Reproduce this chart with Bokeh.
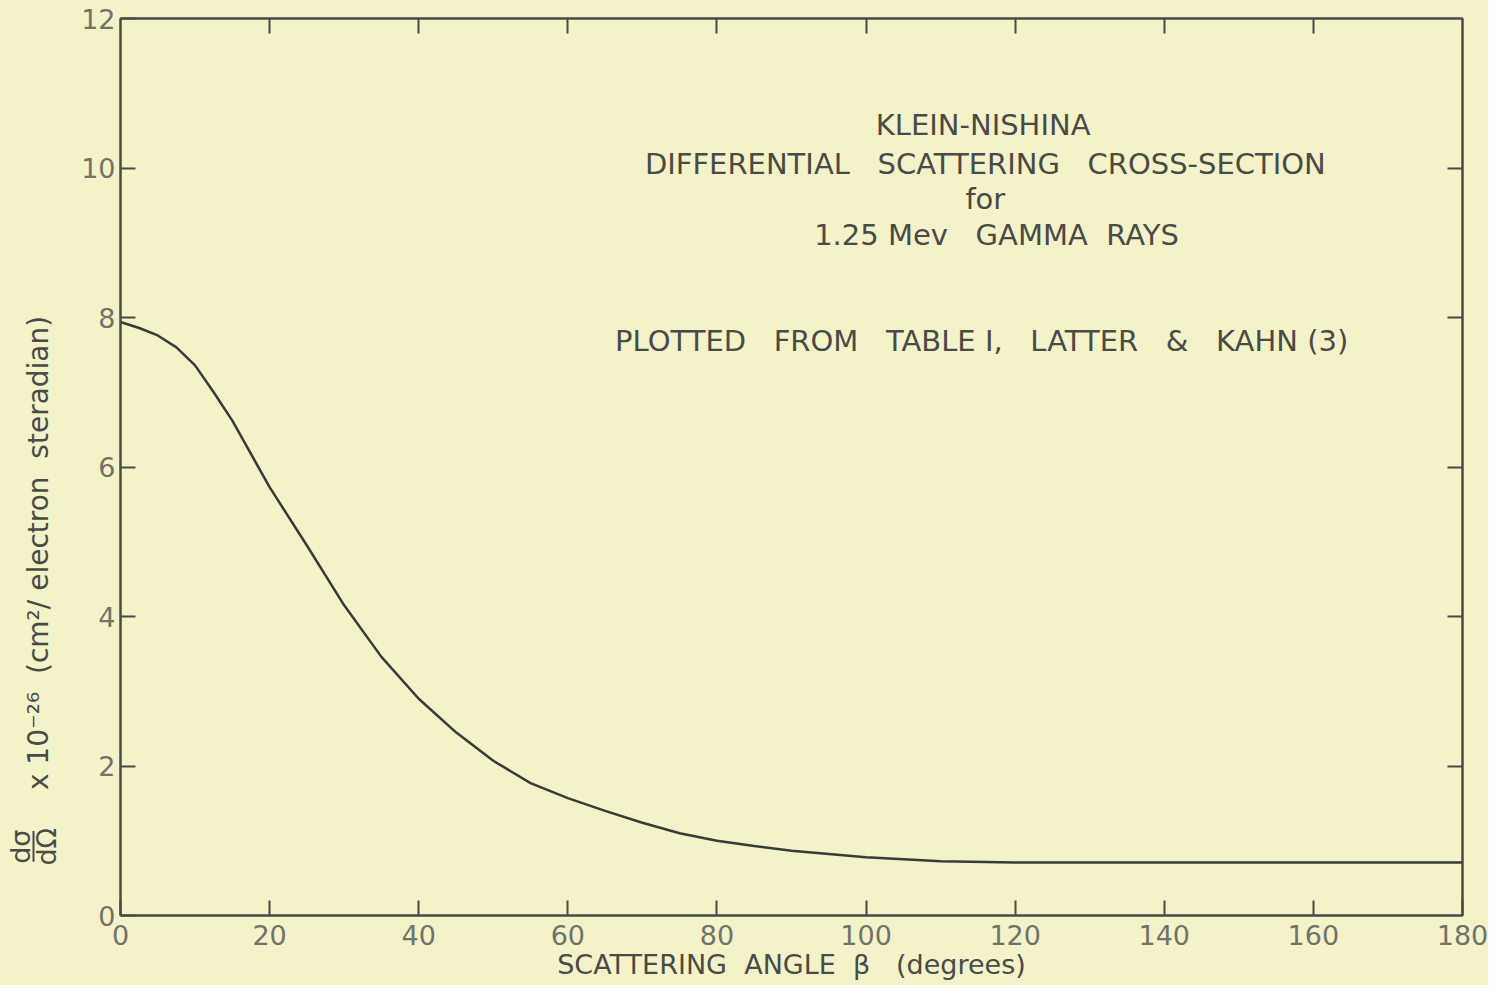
from bokeh.plotting import figure
from bokeh.layouts import row
from bokeh.models import (Range1d, LinearAxis, FixedTicker, Label, CustomJSTickFormatter,
                          InlineStyleSheet)
from bokeh.embed import file_html
from bokeh.resources import INLINE

# ---- data ----
angle_deg = [0, 2.5, 5, 7.5, 10, 12.5, 15, 20, 25, 30, 35, 40, 45, 50, 55, 60, 65,
             70, 75, 80, 85, 90, 100, 110, 120, 130, 140, 150, 160, 170, 180]
cross_section = [7.94, 7.86, 7.76, 7.60, 7.36, 7.00, 6.62, 5.73, 4.95, 4.15, 3.46,
                 2.90, 2.45, 2.07, 1.77, 1.57, 1.40, 1.24, 1.10, 1.00, 0.93, 0.865,
                 0.78, 0.725, 0.71, 0.71, 0.71, 0.71, 0.71, 0.71, 0.71]

x_ticks = [0, 20, 40, 60, 80, 100, 120, 140, 160, 180]
y_ticks = [0, 2, 4, 6, 8, 10, 12]

NB = "\u00a0"
SP = NB + NB + " "
title_lines = ["KLEIN-NISHINA",
               "DIFFERENTIAL" + SP + "SCATTERING" + SP + "CROSS-SECTION",
               "for",
               "1.25 Mev" + SP + "GAMMA" + NB + " RAYS"]
source_note = ("PLOTTED" + SP + "FROM" + SP + "TABLE I," + SP + "LATTER" + SP +
               "&" + SP + "KAHN (3)")
x_label = "SCATTERING" + NB + " ANGLE" + NB + " \u03b2" + NB + NB + " (degrees)"
y_numerator = "d\u03c3"
y_denominator = "d\u03a9"
y_label_rest = "x 10\u207b\u00b2\u2076" + NB + " (cm\u00b2/ electron" + NB + " steradian)"

PAPER = "#f3f2c9"
INK = "#4a4a46"
FONT = "DejaVu Sans"
TOP, BOTTOM = 18, 70
HEIGHT = 985

# ---- narrow left panel holding the y-axis title ----
pl = figure(width=78, height=HEIGHT, output_backend="svg", toolbar_location=None,
            x_range=Range1d(0, 78), y_range=Range1d(0, 12),
            min_border_left=0, min_border_right=0, min_border_top=TOP,
            min_border_bottom=BOTTOM, x_axis_location=None, y_axis_location=None)
pl.background_fill_color = PAPER
pl.border_fill_color = PAPER
pl.outline_line_color = None
pl.grid.visible = False
for tx, txt in [(20, y_numerator), (46, y_denominator)]:
    pl.add_layout(Label(x=tx, y=0.92, text=txt, angle=1.5708, text_align="center",
                        text_baseline="middle", text_font=FONT,
                        text_font_size="27px", text_color=INK))
pl.segment(x0=[33], y0=[0.72], x1=[33], y1=[1.13], line_color=INK, line_width=2)
pl.add_layout(Label(x=38, y=4.85, text=y_label_rest, angle=1.5708,
                    text_align="center", text_baseline="middle", text_font=FONT,
                    text_font_size="28px", text_color=INK))

# ---- main plot ----
p = figure(width=1410, height=HEIGHT, output_backend="svg", toolbar_location=None,
           x_range=Range1d(0, 180), y_range=pl.y_range,
           min_border_left=40, min_border_right=26, min_border_top=TOP,
           min_border_bottom=BOTTOM, x_axis_location=None, y_axis_location=None)
p.background_fill_color = PAPER
p.border_fill_color = PAPER
p.outline_line_color = INK
p.outline_line_width = 2
p.grid.visible = False

def style_axis(ax, ticks, show_labels, standoff):
    ax.ticker = FixedTicker(ticks=ticks)
    ax.major_tick_in = 15
    ax.major_tick_out = 0
    ax.minor_tick_in = 0
    ax.minor_tick_out = 0
    ax.major_tick_line_color = INK
    ax.major_tick_line_width = 2
    ax.axis_line_color = INK
    ax.axis_line_width = 2
    if show_labels:
        ax.major_label_text_font = FONT
        ax.major_label_text_font_size = "27px"
        ax.major_label_text_color = "#727269"
        ax.major_label_standoff = standoff
    else:
        ax.formatter = CustomJSTickFormatter(code="return ''")
        ax.major_label_text_font_size = "0px"
        ax.major_label_standoff = 0

bottom = LinearAxis(axis_label=x_label)
style_axis(bottom, x_ticks, True, 9)
bottom.axis_label_standoff = 1
bottom.axis_label_text_font = FONT
bottom.axis_label_text_font_size = "27px"
bottom.axis_label_text_font_style = "normal"
bottom.axis_label_text_color = INK
p.add_layout(bottom, "below")
left = LinearAxis()
style_axis(left, y_ticks, True, 5)
p.add_layout(left, "left")
top = LinearAxis()
style_axis(top, x_ticks[1:-1], False, 0)
p.add_layout(top, "above")
right = LinearAxis()
style_axis(right, y_ticks[1:-1], False, 0)
p.add_layout(right, "right")

p.line(angle_deg, cross_section, line_color="#3a3a38", line_width=2.5)

title_pos = [(115.7, 10.57), (116.0, 10.06), (116.0, 9.58), (117.5, 9.10)]
for (tx, ty), txt in zip(title_pos, title_lines):
    p.add_layout(Label(x=tx, y=ty, text=txt, text_align="center",
                       text_baseline="middle", text_font=FONT,
                       text_font_size="29px", text_color=INK))
p.add_layout(Label(x=115.5, y=7.69, text=source_note, text_align="center",
                   text_baseline="middle", text_font=FONT,
                   text_font_size="29px", text_color=INK))

layout = row(pl, p, spacing=0,
             stylesheets=[InlineStyleSheet(css=":host { background-color: #f3f2c9; }")])
open("out.html", "w").write(file_html(layout, INLINE))
